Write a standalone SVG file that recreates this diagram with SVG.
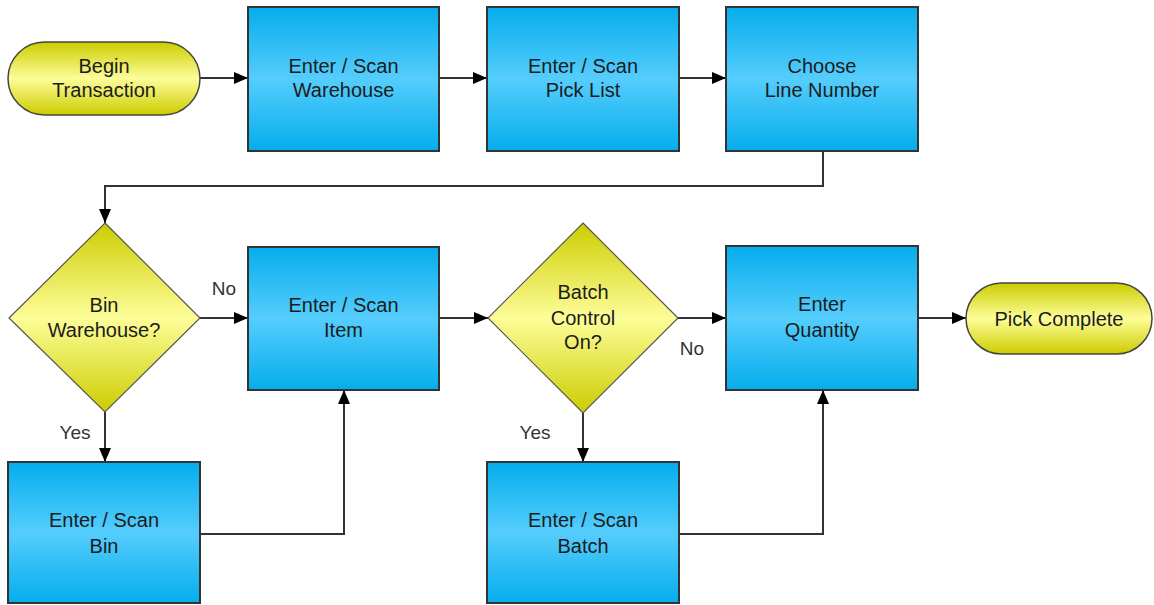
<svg xmlns="http://www.w3.org/2000/svg" width="1154" height="605" viewBox="0 0 1154 605">
<defs>
<linearGradient id="blue" x1="0" y1="0" x2="0" y2="1">
<stop offset="0" stop-color="#05adec"/>
<stop offset="0.5" stop-color="#55cdfd"/>
<stop offset="1" stop-color="#05adec"/>
</linearGradient>
<linearGradient id="yel" x1="0" y1="0" x2="0" y2="1">
<stop offset="0" stop-color="#cccc00"/>
<stop offset="0.5" stop-color="#fdfd99"/>
<stop offset="1" stop-color="#cccc00"/>
</linearGradient>
<marker id="arr" viewBox="0 0 14 12" refX="14" refY="6" markerWidth="14" markerHeight="12" markerUnits="userSpaceOnUse" orient="auto">
<path d="M0,0 L14,6 L0,12 Z" fill="#000"/>
</marker>
</defs>
<style>
.box{fill:url(#blue);stroke:#333;stroke-width:2}
.term{fill:url(#yel);stroke:#444;stroke-width:1.5}
.dec{fill:url(#yel);stroke:#555;stroke-width:1.2}
.t{font-family:"Liberation Sans",Arial,sans-serif;font-size:20px;fill:#1c1c1c;text-anchor:middle}
.lbl{font-family:"Liberation Sans",Arial,sans-serif;font-size:19px;fill:#333;text-anchor:middle}
.c{fill:none;stroke:#333;stroke-width:2}
.ca{fill:none;stroke:#333;stroke-width:2;marker-end:url(#arr)}
</style>
<rect width="1154" height="605" fill="#fff"/>
<g id="connectors">
<line class="ca" x1="200" y1="78" x2="248" y2="78"/>
<line class="ca" x1="439" y1="78" x2="487" y2="78"/>
<line class="ca" x1="679" y1="78" x2="726" y2="78"/>
<polyline class="ca" points="823,151 823,186 105,186 105,223"/>
<line class="ca" x1="200" y1="318" x2="248" y2="318"/>
<line class="ca" x1="439" y1="318" x2="488" y2="318"/>
<line class="ca" x1="678" y1="318" x2="726" y2="318"/>
<line class="ca" x1="918" y1="318" x2="966" y2="318"/>
<line class="ca" x1="105" y1="412" x2="105" y2="462"/>
<line class="ca" x1="583" y1="413" x2="583" y2="462"/>
<polyline class="ca" points="200,534 344,534 344,390"/>
<polyline class="ca" points="679,534 823,534 823,390"/>
<text class="lbl" x="224" y="295">No</text>
<text class="lbl" x="75" y="439">Yes</text>
<text class="lbl" x="535" y="439">Yes</text>
<text class="lbl" x="692" y="355">No</text>
</g>
<g id="begin">
<rect class="term" x="8" y="42" width="192" height="73" rx="36.5" ry="36.5"/>
<text class="t" x="104" y="73">Begin</text>
<text class="t" x="104" y="97">Transaction</text>
</g>
<g id="warehouse">
<rect class="box" x="248" y="7" width="191" height="144"/>
<text class="t" x="343.5" y="73">Enter / Scan</text>
<text class="t" x="343.5" y="97">Warehouse</text>
</g>
<g id="picklist">
<rect class="box" x="487" y="7" width="192" height="144"/>
<text class="t" x="583" y="73">Enter / Scan</text>
<text class="t" x="583" y="97">Pick List</text>
</g>
<g id="linenumber">
<rect class="box" x="726" y="7" width="192" height="144"/>
<text class="t" x="822" y="73">Choose</text>
<text class="t" x="822" y="97">Line Number</text>
</g>
<g id="binwarehouse">
<polygon class="dec" points="105,223 200,318 105,412 9,318"/>
<text class="t" x="104" y="312">Bin</text>
<text class="t" x="104" y="337">Warehouse?</text>
</g>
<g id="item">
<rect class="box" x="248" y="247" width="191" height="143"/>
<text class="t" x="343.5" y="312">Enter / Scan</text>
<text class="t" x="343.5" y="337">Item</text>
</g>
<g id="batchcontrol">
<polygon class="dec" points="583,223 678,318 583,413 488,318"/>
<text class="t" x="583" y="299">Batch</text>
<text class="t" x="583" y="325">Control</text>
<text class="t" x="583" y="349">On?</text>
</g>
<g id="quantity">
<rect class="box" x="726" y="246" width="192" height="144"/>
<text class="t" x="822" y="311">Enter</text>
<text class="t" x="822" y="337">Quantity</text>
</g>
<g id="pickcomplete">
<rect class="term" x="966" y="283" width="186" height="71" rx="35.5" ry="35.5"/>
<text class="t" x="1059" y="326">Pick Complete</text>
</g>
<g id="bin">
<rect class="box" x="8" y="462" width="192" height="141"/>
<text class="t" x="104" y="527">Enter / Scan</text>
<text class="t" x="104" y="553">Bin</text>
</g>
<g id="batch">
<rect class="box" x="487" y="462" width="192" height="141"/>
<text class="t" x="583" y="527">Enter / Scan</text>
<text class="t" x="583" y="553">Batch</text>
</g>
</svg>
